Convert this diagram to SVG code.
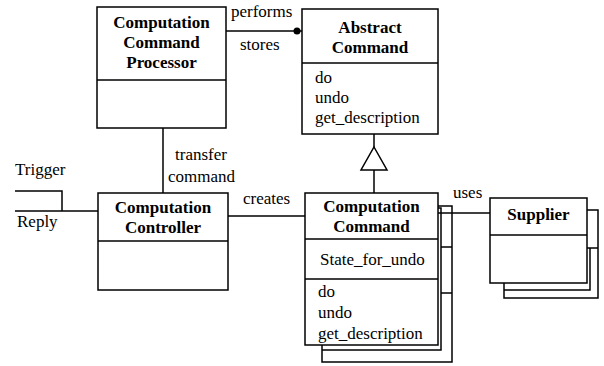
<svg xmlns="http://www.w3.org/2000/svg" width="604" height="366" viewBox="0 0 604 366">
<style>
.box{fill:#fff;stroke:#000;stroke-width:1.5}
.ln{fill:none;stroke:#000;stroke-width:1.5}
.t{font-family:"Liberation Serif","Times New Roman","DejaVu Serif",serif;font-size:17px;fill:#000}
.b{font-weight:bold;text-anchor:middle}
</style>
<rect width="604" height="366" fill="#fff"/>
<g id="connectors">
<path class="ln" d="M226,31 H302"/>
<circle cx="297" cy="31" r="3.5" fill="#000"/>
<path class="ln" d="M163,128 V193"/>
<path class="ln" d="M228,216 H305"/>
<path class="ln" d="M15,211 H98"/>
<path class="ln" d="M15,191 H62 V211"/>
<path class="ln" d="M374,134 V147"/>
<path class="ln" d="M374,147 L387,170 H361 Z"/>
<path class="ln" d="M374,170 V193"/>
<path class="ln" d="M438,213 H490"/>
<text class="t" font-family="Liberation Serif, serif" x="231" y="17">performs</text>
<text class="t" x="240" y="50">stores</text>
<text class="t" x="175" y="160">transfer</text>
<text class="t" x="168" y="182">command</text>
<text class="t" x="243" y="204">creates</text>
<text class="t" x="453" y="198">uses</text>
<text class="t" x="15" y="175">Trigger</text>
<text class="t" x="17" y="227">Reply</text>
</g>
<g id="processor">
<rect class="box" x="97" y="7" width="129" height="121"/>
<path class="ln" d="M97,80 H226"/>
<text class="t b" x="161.5" y="28">Computation</text>
<text class="t b" x="161.5" y="48">Command</text>
<text class="t b" x="161.5" y="68">Processor</text>
</g>
<g id="abstract-command">
<rect class="box" x="302" y="9" width="136" height="125"/>
<path class="ln" d="M302,63 H438"/>
<text class="t b" x="370" y="33">Abstract</text>
<text class="t b" x="370" y="53">Command</text>
<text class="t" x="315" y="83">do</text>
<text class="t" x="315" y="103">undo</text>
<text class="t" x="315" y="123">get_description</text>
</g>
<g id="controller">
<rect class="box" x="98" y="193" width="130" height="97"/>
<path class="ln" d="M98,241 H228"/>
<text class="t b" x="163" y="213">Computation</text>
<text class="t b" x="163" y="233">Controller</text>
</g>
<g id="computation-command">
<path class="ln" d="M438,206 H452 V362 H322 V345"/>
<path class="ln" d="M438,208 H441 V350 H322"/>
<path class="ln" d="M441,247 H452 M441,293 H452"/>
<rect class="box" x="305" y="193" width="133" height="152"/>
<path class="ln" d="M305,239 H438 M305,279 H438"/>
<text class="t b" x="371.5" y="212">Computation</text>
<text class="t b" x="371.5" y="232">Command</text>
<text class="t" x="320" y="265">State_for_undo</text>
<text class="t" x="318" y="297">do</text>
<text class="t" x="318" y="318">undo</text>
<text class="t" x="318" y="339">get_description</text>
</g>
<g id="supplier">
<path class="ln" d="M587,210 H598 V298 H504 V283"/>
<path class="ln" d="M587,248 H598 M590,248 V290 H504"/>
<rect class="box" x="490" y="198" width="97" height="85"/>
<path class="ln" d="M490,235 H587"/>
<text class="t b" x="538.5" y="220">Supplier</text>
</g>
</svg>
